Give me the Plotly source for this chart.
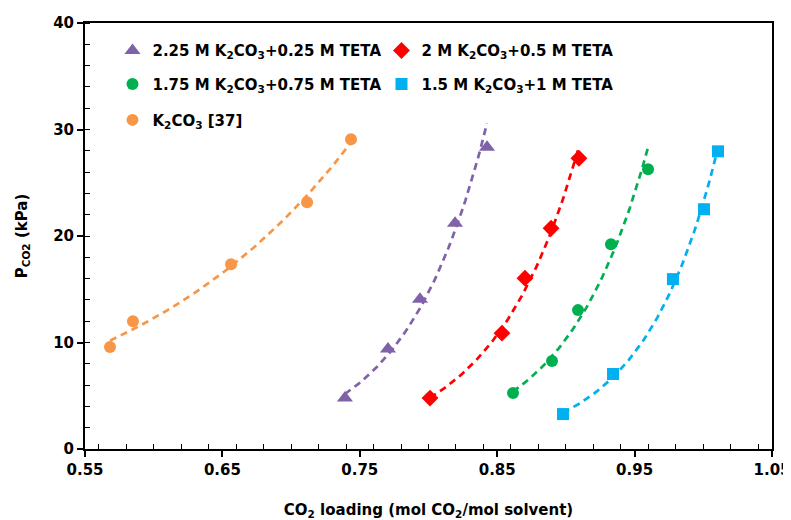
import numpy as np
import plotly.graph_objects as go

# ---- data ----
names = [
    "<b>2.25 M K<sub>2</sub>CO<sub>3</sub>+0.25 M TETA</b>",
    "<b>2 M K<sub>2</sub>CO<sub>3</sub>+0.5 M TETA</b>",
    "<b>1.75 M K<sub>2</sub>CO<sub>3</sub>+0.75 M TETA</b>",
    "<b>1.5 M K<sub>2</sub>CO<sub>3</sub>+1 M TETA</b>",
    "<b>K<sub>2</sub>CO<sub>3</sub> [37]</b>",
]
x_225 = [0.7392, 0.7705, 0.7938, 0.8193, 0.8426]
y_225 = [4.78, 9.38, 14.07, 21.2, 28.33]
x_2 = [0.8011, 0.8535, 0.8702, 0.8892, 0.9095]
y_2 = [4.78, 10.88, 16.04, 20.73, 27.3]
x_175 = [0.8615, 0.8899, 0.9088, 0.9328, 0.9598]
y_175 = [5.25, 8.26, 13.04, 19.23, 26.27]
x_15 = [0.8979, 0.9343, 0.9779, 1.0005, 1.0107]
y_15 = [3.28, 7.04, 15.95, 22.51, 27.95]
x_k = [0.5682, 0.5849, 0.6563, 0.7116, 0.7436]
y_k = [9.57, 12.0, 17.35, 23.17, 29.08]

x_ticks = [0.55, 0.65, 0.75, 0.85, 0.95, 1.05]
x_ticklabels = ["0.55", "0.65", "0.75", "0.85", "0.95", "1.05"]
y_ticks = [0, 10, 20, 30, 40]
y_ticklabels = ["0", "10", "20", "30", "40"]

xs = [x_225, x_2, x_175, x_15, x_k]
ys = [y_225, y_2, y_175, y_15, y_k]

colors = ["#7F62A8", "#FF0000", "#00B050", "#00B0F0", "#F79646"]
symbols = ["triangle-up", "diamond", "circle", "square", "circle"]
sizes = [14, 13, 12, 12, 12]
legend_ids = ["legend", "legend", "legend2", "legend2", "legend3"]

FONT = "DejaVu Sans, Liberation Sans, Arial, sans-serif"

fig = go.Figure()

# exponential trendlines (least-squares fit of each series, Excel style)
for x, y, c in zip(xs, ys, colors):
    xa = np.array(x)
    b, a = np.polyfit(xa, np.log(np.array(y)), 1)
    xf = np.linspace(xa.min(), xa.max(), 60)
    fig.add_trace(go.Scatter(
        x=xf, y=np.exp(a + b * xf), mode="lines",
        line=dict(color=c, width=2.7, dash="7px,5px"),
        showlegend=False, hoverinfo="skip"))

for x, y, n, c, s, sz, lg in zip(xs, ys, names, colors, symbols, sizes, legend_ids):
    fig.add_trace(go.Scatter(
        x=x, y=y, mode="markers", name=n, legend=lg,
        marker=dict(color=c, symbol=s, size=sz, line=dict(width=0))))

leg_common = dict(
    orientation="h", xanchor="left", yanchor="middle",
    bgcolor="rgba(0,0,0,0)", borderwidth=0,
    font=dict(family=FONT, size=15, color="#000000"),
    entrywidth=224, entrywidthmode="pixels", itemwidth=30,
)

# page body has an 8px margin: figure is offset by (8, 8)
fig.update_layout(
    width=783, height=512,
    margin=dict(l=77, r=19, t=15, b=71, autoexpand=False),
    paper_bgcolor="white", plot_bgcolor="white",
    font=dict(family=FONT, size=15, color="#000000"),
    legend=dict(x=0.04, y=0.935, **leg_common),
    legend2=dict(x=0.04, y=0.856, **leg_common),
    legend3=dict(x=0.04, y=0.772, **leg_common),
    xaxis=dict(
        range=[0.55, 1.05], tickvals=x_ticks,
        ticktext=["<b>%s</b>" % t for t in x_ticklabels],
        showgrid=False, zeroline=False, automargin=False,
        ticklabeloverflow="allow",
        showline=True, linecolor="black", linewidth=2, mirror=True,
        ticks="outside", ticklen=6, tickwidth=1.5, tickcolor="black",
        minor=dict(dtick=0.02, ticks="inside", ticklen=5, tickcolor="black", tickwidth=1),
        tickfont=dict(family=FONT, size=15, color="#000000"),
        title=dict(text="<b>CO<sub>2</sub> loading (mol CO<sub>2</sub>/mol solvent)</b>",
                   font=dict(family=FONT, size=15), standoff=26),
    ),
    yaxis=dict(
        range=[0, 40], tickvals=y_ticks,
        ticktext=["<b>%s</b>" % t for t in y_ticklabels],
        showgrid=False, zeroline=False, automargin=False,
        ticklabeloverflow="allow",
        showline=True, linecolor="black", linewidth=2, mirror=True,
        ticks="outside", ticklen=6, tickwidth=1.5, tickcolor="black",
        minor=dict(dtick=2, ticks="inside", ticklen=5, tickcolor="black", tickwidth=1),
        tickfont=dict(family=FONT, size=15, color="#000000"),
        title=dict(text="<b>P<sub>CO2</sub> (kPa)</b>",
                   font=dict(family=FONT, size=15), standoff=22),
    ),
)

fig.write_html("out.html")
